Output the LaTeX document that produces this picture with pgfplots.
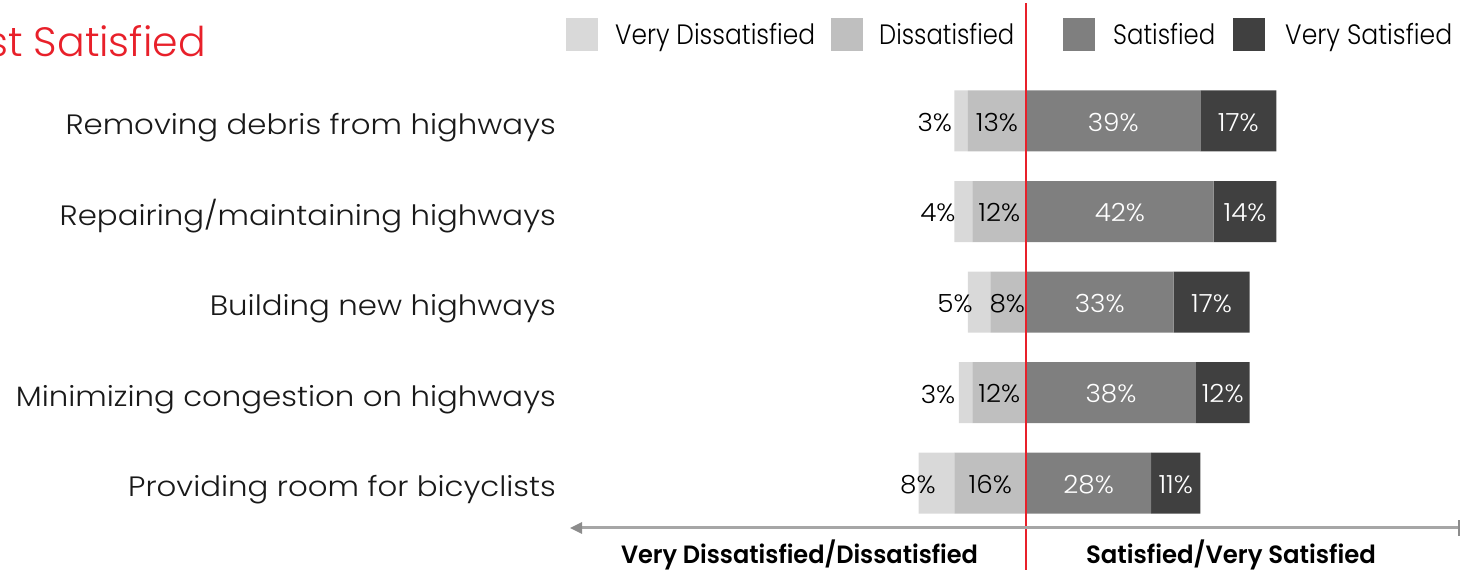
\documentclass[border=0pt]{standalone}
\usepackage{pgfplots}
\pgfplotsset{compat=1.18}
\usepackage{pgfplotstable}
\usepackage{graphicx}
\usepackage{fontspec}
\setmainfont{Poppins}[UprightFont=* Light, BoldFont=* SemiBold]
\newfontfamily\widefont{Poppins}[UprightFont=* Light, FakeStretch=1.1]
\newfontfamily\numfont{Poppins}[UprightFont=* Light, FakeStretch=1.05]
\definecolor{vdcol}{HTML}{D9D9D9}
\definecolor{dcol}{HTML}{BFBFBF}
\definecolor{scol}{HTML}{7F7F7F}
\definecolor{vscol}{HTML}{404040}
\definecolor{redline}{HTML}{E8202A}
\definecolor{arrowgray}{HTML}{A6A6A6}
\definecolor{headgray}{HTML}{8C8C8C}

\pgfplotstableread{
y vd d s vs
1 3 13 39 17
2 4 12 42 14
3 5 8 33 17
4 3 12 38 12
5 8 16 28 11
}\satdata

\pgfplotsset{
  base/.style={at={(575bp,0bp)}, anchor=south west, scale only axis,
    width=885bp, height=570bp, xmin=-100.9, xmax=97.1,
    ymin=-0.337, ymax=5.961, y dir=reverse, clip=false},
}

\begin{document}
\begin{tikzpicture}[x=1bp,y=1bp]
\useasboundingbox (0,0) rectangle (1460,570);
\begin{axis}[base, xbar stacked, stack negative=separate, bar width=0.674,
  axis line style={draw=none}, xtick=\empty,
  ytick={1,2,3,4,5},
  yticklabels={Removing debris from highways, Repairing/maintaining highways, Building new highways, Minimizing congestion on highways, Providing room for bicyclists},
  major tick length=0pt,
  yticklabel style={font=\widefont\fontsize{28bp}{32bp}\selectfont, text=black!90, anchor=east, inner sep=0pt, xshift=-19bp, text height=27bp, text depth=0pt}]
% dissatisfied shares go to the left of zero
\addplot[fill=dcol, draw=none] table[x expr={-\thisrow{d}}, y=y] {\satdata};
\addplot[fill=vdcol, draw=none] table[x expr={-\thisrow{vd}}, y=y] {\satdata};
\addplot[fill=scol, draw=none] table[x=s, y=y] {\satdata};
\addplot[fill=vscol, draw=none] table[x=vs, y=y] {\satdata};
\end{axis}
\begin{axis}[base, hide axis,
  nodes near coords, point meta=explicit symbolic,
  every node near coord/.append style={anchor=center, inner sep=0pt, yshift=-1.5bp, font=\numfont\fontsize{25bp}{30bp}\selectfont}]
\addplot[only marks, mark=*, mark size=0pt, mark options={draw=none, fill=none}, nodes near coords style={text=black}] coordinates {
(-20.4,1) [3\%] (-6.5,1) [13\%]
(-19.7,2) [4\%] (-6,2) [12\%]
(-15.9,3) [5\%] (-4.2,3) [8\%]
(-19.7,4) [3\%] (-6,4) [12\%]
(-24.2,5) [8\%] (-8,5) [16\%]
};
\addplot[only marks, mark=*, mark size=0pt, mark options={draw=none, fill=none}, nodes near coords style={text=white}] coordinates {
(19.5,1) [39\%] (47.5,1) [17\%]
(21,2) [42\%] (49,2) [14\%]
(16.5,3) [33\%] (41.5,3) [17\%]
(19,4) [38\%] (44,4) [12\%]
(14,5) [28\%] (33.5,5) [11\%]
};
\end{axis}
% red zero line
\draw[redline, line width=2bp] (1026,0) -- (1026,567);
% title (cropped at the left edge)
\node[anchor=base east, inner sep=0pt, text=redline, font=\fontsize{41bp}{48bp}\selectfont] at (206,513) {Most Satisfied};
% legend
\fill[vdcol] (566,519) rectangle (598,552);
\fill[dcol] (831,519) rectangle (863,552);
\fill[scol] (1063,519) rectangle (1095,552);
\fill[vscol] (1233,519) rectangle (1265,552);
\node[anchor=base west, inner sep=0pt] at (615,525) {\resizebox{200bp}{\height}{\fontsize{28bp}{32bp}\selectfont Very Dissatisfied}};
\node[anchor=base west, inner sep=0pt] at (879,525) {\resizebox{135bp}{\height}{\fontsize{28bp}{32bp}\selectfont Dissatisfied}};
\node[anchor=base west, inner sep=0pt] at (1113,525) {\resizebox{102bp}{\height}{\fontsize{28bp}{32bp}\selectfont Satisfied}};
\node[anchor=base west, inner sep=0pt] at (1285,525) {\resizebox{167bp}{\height}{\fontsize{28bp}{32bp}\selectfont Very Satisfied}};
% bottom arrow
\draw[arrowgray, line width=3bp] (578,42) -- (1462,42);
\fill[headgray] (570,42) -- (582,48) -- (582,36) -- cycle;
\draw[headgray, line width=1.5bp] (1459,34) -- (1459,50);
% bottom labels
\node[anchor=base, inner sep=0pt] at (799.5,6) {\resizebox{357bp}{\height}{\fontsize{25bp}{30bp}\selectfont\bfseries Very Dissatisfied/Dissatisfied}};
\node[anchor=base, inner sep=0pt] at (1231,6) {\resizebox{290bp}{\height}{\fontsize{25bp}{30bp}\selectfont\bfseries Satisfied/Very Satisfied}};
\end{tikzpicture}
\end{document}
